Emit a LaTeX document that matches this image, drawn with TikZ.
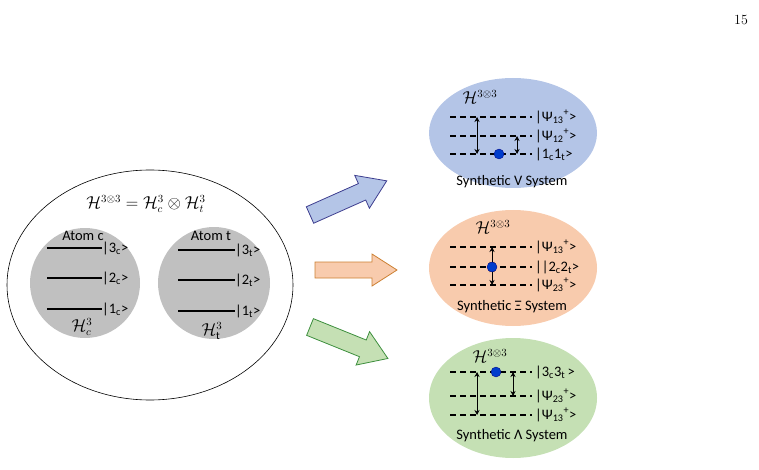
\documentclass[tikz,border=0pt]{standalone}
\usepackage{fontspec}
\setmainfont{Carlito}
\usepackage{amsmath}
\usetikzlibrary{arrows.meta}
\definecolor{vblue}{RGB}{180,197,231}
\definecolor{xor}{RGB}{248,203,173}
\definecolor{lgr}{RGB}{197,224,180}
\definecolor{gr}{RGB}{192,192,192}
\begin{document}
\begin{tikzpicture}[x=1pt,y=-1pt,
  txt/.style={font=\fontsize{14.5}{16}\selectfont,inner sep=0pt},
  mth/.style={font=\fontsize{16}{18}\selectfont,inner sep=0pt},
  lvl/.style={txt,anchor=west},
  sol/.style={line width=1.1pt},
  dsh/.style={line width=1.3pt,dash pattern=on 6pt off 4pt},
  vt/.style={line width=0.7pt,{Stealth[length=5pt,width=5pt]}-{Stealth[length=5pt,width=5pt]}},
  dot/.style={circle,fill=blue!70!cyan!80!black,draw=blue!50!black,line width=0.3pt,minimum size=10pt,inner sep=0pt}]
\useasboundingbox (0,0) rectangle (759,470);
\node[inner sep=0pt,font=\fontsize{14}{16}\selectfont] (pg) at (741,20) {\fontspec{Latin Modern Roman}15};
% left
\draw[line width=0.6pt] (150,285) ellipse [x radius=143,y radius=115];
\node[mth] (title) at (146,204) {$\mathcal{H}^{3\otimes3}=\mathcal{H}_c^3\otimes\mathcal{H}_t^3$};
\fill[gr] (85,283) circle (55);
\fill[gr] (214,283) circle (56);
\node[txt] (ac) at (83,236) {Atom c};
\node[txt] (at) at (211,236) {Atom t};
\foreach \y/\l [count=\i] in {248/3,278/2,309/1}{
  \draw[sol] (47,\y) -- (102,\y) coordinate (c\i);
  \node[lvl] (cl\i) at (c\i) {|\l\textsubscript{c}>};}
\foreach \y/\l [count=\i] in {250/3,280/2,311/1}{
  \draw[sol] (178,\y) -- (235,\y) coordinate (t\i);
  \node[lvl] (tl\i) at (t\i) {|\l\textsubscript{t}>};}
\node[mth] (hc) at (82,327) {$\mathcal{H}_c^3$};
\node[mth] (ht) at (212,331) {$\mathcal{H}_{\mathrm{t}}^3$};
% block arrows
\tikzset{blkarrow/.style={line width=0.8pt}}
\draw[blkarrow,fill=vblue,draw=blue!40!gray!80!black,shift={(310,215)},rotate=24]
  (0,-9) -- (57,-9) -- (57,-18) -- (84,0) -- (57,18) -- (57,9) -- (0,9) -- cycle;
\draw[blkarrow,fill=xor,draw=orange!60!gray,shift={(315,270)}]
  (0,-8) -- (57,-8) -- (57,-16) -- (82,0) -- (57,16) -- (57,8) -- (0,8) -- cycle;
\draw[blkarrow,fill=lgr,draw=green!40!gray!80!black,shift={(310,327)},rotate=-22]
  (0,-9) -- (57,-9) -- (57,-18) -- (84,0) -- (57,18) -- (57,9) -- (0,9) -- cycle;
% V system
\fill[vblue] (513,133) ellipse [x radius=84,y radius=55];
\node[mth] (hv) at (480,97) {$\mathcal{H}^{3\otimes3}$};
\foreach \y/\l [count=\i] in {117/{|Ψ\textsubscript{13}\textsuperscript{+}>},136/{|Ψ\textsubscript{12}\textsuperscript{+}>},154/{|1\textsubscript{c}1\textsubscript{t}>}}{
  \draw[dsh] (450,\y) -- (532,\y) coordinate (v\i);
  \node[lvl] (vl\i) at (535,\y) {\l};}
\coordinate (va) at (477,117); \coordinate (vb) at (477,154);
\coordinate (vc) at (517,136); \coordinate (vd) at (517,154);
\draw[vt] (va) -- (vb); \draw[vt] (vc) -- (vd);
\node[dot] (vdot) at (499,154) {};
\node[txt] (vs) at (512,182) {Synthetic V System};
% Xi system
\fill[xor] (513,268) ellipse [x radius=84,y radius=58];
\node[mth] (hx) at (493,227) {$\mathcal{H}^{3\otimes3}$};
\foreach \y/\l [count=\i] in {247/{|Ψ\textsubscript{13}\textsuperscript{+}>},267/{||2\textsubscript{c}2\textsubscript{t}>},285/{|Ψ\textsubscript{23}\textsuperscript{+}>}}{
  \draw[dsh] (450,\y) -- (532,\y) coordinate (x\i);
  \node[lvl] (xl\i) at (535,\y) {\l};}
\coordinate (xa) at (492,247); \coordinate (xb) at (492,267); \coordinate (xc) at (492,285);
\draw[vt] (xa) -- (xb); \draw[vt] (xb) -- (xc);
\node[dot] (xdot) at (xb) {};
\node[txt] (xs) at (512,307) {Synthetic Ξ System};
% Lambda system
\fill[lgr] (513,398) ellipse [x radius=84,y radius=60];
\node[mth] (hl) at (490,356) {$\mathcal{H}^{3\otimes3}$};
\foreach \y/\l [count=\i] in {372/{|3\textsubscript{c}3\textsubscript{t}\,>},396/{|Ψ\textsubscript{23}\textsuperscript{+}>},415/{|Ψ\textsubscript{13}\textsuperscript{+}>}}{
  \draw[dsh] (450,\y) -- (532,\y) coordinate (l\i);
  \node[lvl] (ll\i) at (535,\y) {\l};}
\coordinate (la) at (477,372); \coordinate (lb) at (477,415);
\coordinate (lc) at (513,372); \coordinate (ld) at (513,396);
\draw[vt] (la) -- (lb); \draw[vt] (lc) -- (ld);
\node[dot] (ldot) at (496,372) {};
\node[txt] (ls) at (512,436) {Synthetic Λ System};
\end{tikzpicture}
\end{document}
